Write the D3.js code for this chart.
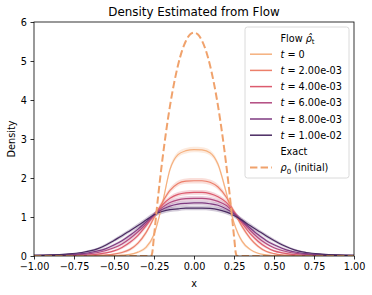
<!DOCTYPE html>
<html>
<head>
<meta charset="utf-8">
<script src="https://cdn.jsdelivr.net/npm/d3@7"></script>
<style>
  body { margin: 0; background: #fff; }
  svg { font-family: "DejaVu Sans", sans-serif; }
</style>
</head>
<body>
<div id="chart"></div>
<script>
// grid of x values the flow curves were read at
const xs = [-1, -0.9, -0.8, -0.7, -0.65, -0.6, -0.55, -0.5, -0.45, -0.4, -0.35, -0.3, -0.25, -0.2, -0.15, -0.1, -0.05,
            0, 0.05, 0.1, 0.15, 0.2, 0.25, 0.3, 0.35, 0.4, 0.45, 0.5, 0.55, 0.6, 0.65, 0.7, 0.8, 0.9, 1];

const tLabels = ["0", "2.00e-03", "4.00e-03", "6.00e-03", "8.00e-03", "1.00e-02"];
const colors = ["#f5b07e", "#ec7f6a", "#dc5b6e", "#b24a80", "#7e3a80", "#4a2b62"];

// flow density estimates (mean) for each t
const flowT0 = [0, 0, 0, 0, 0, 0, 0.005, 0.01, 0.02, 0.04, 0.1, 0.22, 0.55, 1.3, 2.22, 2.6, 2.7,
                2.73, 2.72, 2.65, 2.35, 1.65, 0.85, 0.38, 0.17, 0.07, 0.03, 0.01, 0.005, 0, 0, 0, 0, 0, 0];
const flowT1 = [0, 0, 0.005, 0.01, 0.01, 0.02, 0.03, 0.05, 0.09, 0.17, 0.33, 0.6, 0.98, 1.36, 1.68, 1.86, 1.92,
                1.93, 1.93, 1.89, 1.77, 1.52, 1.14, 0.76, 0.46, 0.25, 0.12, 0.06, 0.03, 0.02, 0.01, 0.01, 0.005, 0, 0];
const flowT2 = [0.005, 0.005, 0.01, 0.02, 0.03, 0.05, 0.08, 0.13, 0.22, 0.35, 0.53, 0.77, 1.05, 1.3, 1.48, 1.58, 1.62,
                1.63, 1.63, 1.6, 1.52, 1.38, 1.13, 0.84, 0.58, 0.38, 0.23, 0.13, 0.08, 0.05, 0.03, 0.02, 0.01, 0.005, 0.005];
const flowT3 = [0.01, 0.01, 0.02, 0.04, 0.06, 0.09, 0.14, 0.21, 0.31, 0.45, 0.62, 0.82, 1.05, 1.24, 1.37, 1.44, 1.47,
                1.48, 1.48, 1.46, 1.4, 1.3, 1.11, 0.88, 0.66, 0.47, 0.32, 0.21, 0.14, 0.09, 0.06, 0.04, 0.02, 0.01, 0.01];
const flowT4 = [0.01, 0.02, 0.03, 0.06, 0.09, 0.13, 0.19, 0.28, 0.39, 0.53, 0.69, 0.87, 1.05, 1.19, 1.28, 1.33, 1.35,
                1.36, 1.36, 1.34, 1.3, 1.21, 1.08, 0.9, 0.72, 0.55, 0.4, 0.29, 0.2, 0.13, 0.09, 0.06, 0.03, 0.02, 0.01];
const flowT5 = [0.02, 0.03, 0.05, 0.09, 0.13, 0.19, 0.28, 0.4, 0.52, 0.65, 0.78, 0.92, 1.06, 1.14, 1.19, 1.21, 1.23,
                1.23, 1.23, 1.22, 1.19, 1.13, 1.04, 0.92, 0.78, 0.65, 0.52, 0.4, 0.29, 0.2, 0.13, 0.09, 0.05, 0.03, 0.02];

// half width of the shaded band around each estimate
const bandT0 = [0, 0, 0, 0, 0, 0, 0, 0.005, 0.01, 0.02, 0.03, 0.05, 0.06, 0.07, 0.07, 0.07, 0.07,
                0.07, 0.07, 0.07, 0.07, 0.07, 0.06, 0.05, 0.03, 0.02, 0.01, 0.005, 0, 0, 0, 0, 0, 0, 0];
const bandT1 = [0, 0, 0, 0.005, 0.005, 0.01, 0.01, 0.02, 0.03, 0.04, 0.05, 0.06, 0.06, 0.07, 0.07, 0.07, 0.07,
                0.07, 0.07, 0.07, 0.07, 0.07, 0.06, 0.06, 0.05, 0.04, 0.03, 0.02, 0.01, 0.01, 0.005, 0.005, 0, 0, 0];
const bandT2 = [0, 0, 0.005, 0.01, 0.01, 0.02, 0.02, 0.03, 0.04, 0.05, 0.05, 0.06, 0.06, 0.06, 0.06, 0.06, 0.06,
                0.06, 0.06, 0.06, 0.06, 0.06, 0.06, 0.06, 0.05, 0.05, 0.04, 0.03, 0.02, 0.02, 0.01, 0.01, 0.005, 0, 0];
const bandT3 = [0, 0.005, 0.01, 0.01, 0.02, 0.02, 0.03, 0.03, 0.04, 0.05, 0.05, 0.06, 0.06, 0.06, 0.06, 0.06, 0.06,
                0.06, 0.06, 0.06, 0.06, 0.06, 0.06, 0.06, 0.05, 0.05, 0.04, 0.03, 0.03, 0.02, 0.02, 0.01, 0.01, 0.005, 0];
const bandT4 = [0.005, 0.005, 0.01, 0.02, 0.02, 0.03, 0.03, 0.04, 0.04, 0.05, 0.05, 0.06, 0.06, 0.06, 0.06, 0.06, 0.06,
                0.06, 0.06, 0.06, 0.06, 0.06, 0.06, 0.06, 0.05, 0.05, 0.04, 0.04, 0.03, 0.03, 0.02, 0.02, 0.01, 0.005, 0.005];
const bandT5 = [0.005, 0.01, 0.01, 0.02, 0.03, 0.03, 0.04, 0.04, 0.05, 0.05, 0.06, 0.06, 0.06, 0.06, 0.06, 0.06, 0.06,
                0.06, 0.06, 0.06, 0.06, 0.06, 0.06, 0.06, 0.06, 0.05, 0.05, 0.04, 0.04, 0.03, 0.03, 0.02, 0.01, 0.01, 0.005];

// exact initial density rho_0
const exactX = [-1, -0.27, -0.2625, -0.25, -0.225, -0.2, -0.175, -0.15, -0.125, -0.1, -0.075, -0.05, -0.025,
                0, 0.025, 0.05, 0.075, 0.1, 0.125, 0.15, 0.175, 0.2, 0.225, 0.25, 0.2625, 0.27, 1];
const exactRho = [0, 0, 0.05, 0.51, 1.5, 2.39, 3.17, 3.85, 4.42, 4.89, 5.26, 5.52, 5.68,
                  5.73, 5.68, 5.52, 5.26, 4.89, 4.42, 3.85, 3.17, 2.39, 1.5, 0.51, 0.05, 0, 0];

const xTicks = [-1, -0.75, -0.5, -0.25, 0, 0.25, 0.5, 0.75, 1];
const yTicks = [0, 1, 2, 3, 4, 5, 6];

const flows = [flowT0, flowT1, flowT2, flowT3, flowT4, flowT5];
const bands = [bandT0, bandT1, bandT2, bandT3, bandT4, bandT5];

// set the dimensions and margins of the graph
const margin = {top: 22, right: 18, bottom: 39, left: 34},
      width = 372 - margin.left - margin.right,
      height = 295 - margin.top - margin.bottom;

const svg = d3.select("#chart")
    .append("svg")
        .attr("width", 372)
        .attr("height", 295);

const g = svg.append("g")
    .attr("transform", `translate(${margin.left},${margin.top})`);

const x = d3.scaleLinear().domain([-1, 1]).range([0, width]);
const y = d3.scaleLinear().domain([0, 6]).range([height, 0]);

g.append("clipPath").attr("id", "clip")
    .append("rect").attr("width", width).attr("height", height);

const plot = g.append("g").attr("clip-path", "url(#clip)");

// bands first, then lines
flows.forEach((vals, i) => {
    const pts = xs.map((xv, j) => ({x: xv, y: vals[j], b: bands[i][j]}));
    plot.append("path")
        .datum(pts)
        .attr("fill", colors[i])
        .attr("fill-opacity", 0.25)
        .attr("d", d3.area()
            .curve(d3.curveMonotoneX)
            .x(d => x(d.x))
            .y0(d => y(Math.max(0, d.y - d.b)))
            .y1(d => y(d.y + d.b)));
});

flows.forEach((vals, i) => {
    const pts = xs.map((xv, j) => ({x: xv, y: vals[j]}));
    plot.append("path")
        .datum(pts)
        .attr("fill", "none")
        .attr("stroke", colors[i])
        .attr("stroke-width", 1.2)
        .attr("d", d3.line()
            .curve(d3.curveMonotoneX)
            .x(d => x(d.x))
            .y(d => y(d.y)));
});

// exact initial density
plot.append("path")
    .datum(exactX.map((xv, j) => ({x: xv, y: exactRho[j]})))
    .attr("fill", "none")
    .attr("stroke", "#f0a26c")
    .attr("stroke-width", 2)
    .attr("stroke-dasharray", "7.4 3.2")
    .attr("d", d3.line()
        .curve(d3.curveMonotoneX)
        .x(d => x(d.x))
        .y(d => y(d.y)));

// axes
const fmtX = d => d3.format(".2f")(d).replace("-", "\u2212");

const xAxis = g.append("g")
    .attr("transform", `translate(0,${height})`)
    .call(d3.axisBottom(x).tickValues(xTicks).tickFormat(fmtX).tickSize(3.5).tickPadding(3.5));

const yAxis = g.append("g")
    .call(d3.axisLeft(y).tickValues(yTicks).tickFormat(d3.format("d")).tickSize(3.5).tickPadding(3.5));

[xAxis, yAxis].forEach(a => {
    a.select(".domain").remove();
    a.selectAll("line").attr("stroke", "#000").attr("stroke-width", 0.8);
    a.selectAll("text")
        .attr("fill", "#000")
        .style("font-size", "9.7px")
        .style("font-family", "DejaVu Sans");
});

// frame
g.append("rect")
    .attr("width", width)
    .attr("height", height)
    .attr("fill", "none")
    .attr("stroke", "#000")
    .attr("stroke-width", 0.8);

// labels
svg.append("text")
    .attr("x", margin.left + width / 2)
    .attr("y", 16)
    .attr("text-anchor", "middle")
    .style("font-size", "11.9px")
    .text("Density Estimated from Flow");

svg.append("text")
    .attr("x", margin.left + width / 2)
    .attr("y", 287)
    .attr("text-anchor", "middle")
    .style("font-size", "9.7px")
    .text("x");

svg.append("text")
    .attr("transform", `translate(15,${margin.top + height / 2}) rotate(-90)`)
    .attr("text-anchor", "middle")
    .style("font-size", "9.7px")
    .text("Density");

// legend
const legend = svg.append("g").attr("class", "legend");
legend.append("rect")
    .attr("x", 245)
    .attr("y", 27)
    .attr("width", 104)
    .attr("height", 151)
    .attr("rx", 2.5)
    .attr("fill", "#fff")
    .attr("fill-opacity", 0.8)
    .attr("stroke", "#d0d0d0")
    .attr("stroke-width", 0.8);

const rowY = i => 38 + i * 16.2;
const textX = 280.5;

const header1 = legend.append("text")
    .attr("x", textX)
    .attr("y", rowY(0) + 3.5)
    .style("font-size", "9.7px");
header1.append("tspan").text("Flow ");
header1.append("tspan").style("font-style", "italic").text("\u03c1\u0302");
header1.append("tspan").attr("dy", 2.5).style("font-size", "7px").text("t");

tLabels.forEach((lab, i) => {
    const cy = rowY(i + 1);
    legend.append("line")
        .attr("x1", 250).attr("x2", 272)
        .attr("y1", cy).attr("y2", cy)
        .attr("stroke", colors[i])
        .attr("stroke-width", 1.5);
    const t = legend.append("text")
        .attr("x", textX)
        .attr("y", cy + 3.5)
        .style("font-size", "9.7px");
    t.append("tspan").style("font-style", "italic").text("t");
    t.append("tspan").text(" = " + lab);
});

legend.append("text")
    .attr("x", textX)
    .attr("y", rowY(7) + 3.5)
    .style("font-size", "9.7px")
    .text("Exact");

const cy8 = rowY(8);
legend.append("line")
    .attr("x1", 250).attr("x2", 272)
    .attr("y1", cy8).attr("y2", cy8)
    .attr("stroke", "#f0a26c")
    .attr("stroke-width", 2)
    .attr("stroke-dasharray", "7.4 3.2");
const rho0 = legend.append("text")
    .attr("x", textX)
    .attr("y", cy8 + 3.5)
    .style("font-size", "9.7px");
rho0.append("tspan").style("font-style", "italic").text("\u03c1");
rho0.append("tspan").attr("dy", 2.5).style("font-size", "7px").text("0");
rho0.append("tspan").attr("dy", -2.5).text(" (initial)");
</script>
</body>
</html>
